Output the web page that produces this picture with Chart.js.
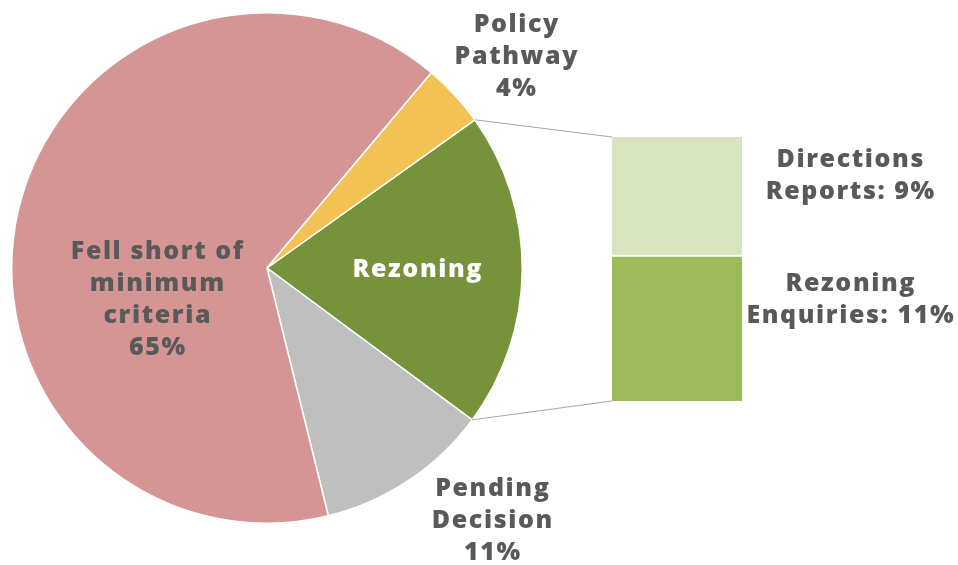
<!DOCTYPE html>
<html lang="en">
<head>
    <meta charset="UTF-8">
    <title>Outcome of submissions</title>
    <script src="https://cdn.jsdelivr.net/npm/chart.js"></script>
    <style>
        body {
            margin: 0;
            background: #fff;
        }
        .wrap {
            position: relative;
            width: 958px;
            height: 565px;
        }
        .wrap canvas {
            position: absolute;
            left: 0;
            top: 0;
        }
    </style>
</head>
<body>
    <div class="wrap">
        <canvas id="pieChart" width="958" height="565"></canvas>
        <canvas id="barChart" width="958" height="565"></canvas>
    </div>

    <script>
        // Pie slices, clockwise from the top edge of the Rezoning slice
        const pieLabels = ['Rezoning', 'Pending Decision', 'Fell short of minimum criteria', 'Policy Pathway'];
        const pieValues = [20, 11, 65, 4];
        const pieColors = ['#76933C', '#BFBFBF', '#D69595', '#F2C354'];

        // Break-down of the Rezoning slice (bottom to top in the bar)
        const barLabels = ['Rezoning Enquiries', 'Directions Reports'];
        const barValues = [11, 9];
        const barColors = ['#9BBB59', '#D7E4BD'];

        const textColor = '#595959';
        const fontFamily = '"Open Sans", sans-serif';

        // Text for each pie slice: lines, colour, offset from the pie centre
        const pieText = [
            { lines: ['Rezoning'], color: '#fff', dx: 150, dy: 2 },
            { lines: ['Pending', 'Decision', '11%'], color: textColor, dx: 225, dy: 253 },
            { lines: ['Fell short of', 'minimum', 'criteria', '65%'], color: textColor, dx: -110, dy: 32 },
            { lines: ['Policy', 'Pathway', '4%'], color: textColor, dx: 249, dy: -211 }
        ];

        function drawLines(ctx, lines, x, y, color) {
            ctx.save();
            ctx.fillStyle = color;
            ctx.font = '800 25px ' + fontFamily;
            ctx.letterSpacing = '1.6px';
            ctx.textAlign = 'center';
            ctx.textBaseline = 'middle';
            const lh = 32;
            const top = y - (lines.length - 1) * lh / 2;
            lines.forEach((t, i) => ctx.fillText(t, x + 0.8, top + i * lh));
            ctx.restore();
        }

        const pieLabelPlugin = {
            id: 'pieLabels',
            afterDatasetsDraw(chart) {
                const arcs = chart.getDatasetMeta(0).data;
                const ctx = chart.ctx;
                arcs.forEach((arc, i) => {
                    const t = pieText[i];
                    drawLines(ctx, t.lines, arc.x + t.dx, arc.y + t.dy, t.color);
                });
            }
        };

        const pieChart = new Chart(document.getElementById('pieChart'), {
            type: 'pie',
            data: {
                labels: pieLabels,
                datasets: [{
                    data: pieValues,
                    backgroundColor: pieColors,
                    borderColor: '#fff',
                    borderWidth: 1.5
                }]
            },
            options: {
                responsive: false,
                animation: false,
                rotation: 54.5,
                layout: {
                    padding: { left: 11, top: 12, right: 435, bottom: 41 }
                },
                plugins: {
                    legend: { display: false },
                    tooltip: { enabled: false }
                },
                events: []
            },
            plugins: [pieLabelPlugin]
        });

        // Bar labels: lines and vertical shift from the segment centre
        const barText = [
            { lines: ['Rezoning', 'Enquiries: 11%'], dy: -29 },
            { lines: ['Directions', 'Reports: 9%'], dy: -21 }
        ];

        const barExtrasPlugin = {
            id: 'barExtras',
            afterDatasetsDraw(chart) {
                const ctx = chart.ctx;
                const low = chart.getDatasetMeta(0).data[0];
                const high = chart.getDatasetMeta(1).data[0];
                const left = low.x - low.width / 2;
                const right = low.x + low.width / 2;

                // connector lines from the Rezoning slice to the bar
                const arc = pieChart.getDatasetMeta(0).data[0];
                const r = arc.outerRadius;
                ctx.save();
                ctx.strokeStyle = '#A6A6A6';
                ctx.lineWidth = 1;
                ctx.beginPath();
                ctx.moveTo(arc.x + r * Math.cos(arc.startAngle), arc.y + r * Math.sin(arc.startAngle));
                ctx.lineTo(left, high.y);
                ctx.moveTo(arc.x + r * Math.cos(arc.endAngle), arc.y + r * Math.sin(arc.endAngle));
                ctx.lineTo(left, low.base);
                ctx.stroke();

                // white split between the two segments
                ctx.strokeStyle = '#fff';
                ctx.lineWidth = 2;
                ctx.beginPath();
                ctx.moveTo(left, low.y);
                ctx.lineTo(right, low.y);
                ctx.stroke();
                ctx.restore();

                [low, high].forEach((bar, i) => {
                    const mid = (bar.y + bar.base) / 2;
                    drawLines(ctx, barText[i].lines, right + 108, mid + barText[i].dy, textColor);
                });
            }
        };

        new Chart(document.getElementById('barChart'), {
            type: 'bar',
            data: {
                labels: ['Rezoning'],
                datasets: barLabels.map((name, i) => ({
                    label: name,
                    data: [barValues[i]],
                    backgroundColor: barColors[i],
                    borderWidth: 0,
                    barPercentage: 1,
                    categoryPercentage: 1
                }))
            },
            options: {
                responsive: false,
                animation: false,
                layout: {
                    padding: { left: 612, top: 137, right: 216, bottom: 164 }
                },
                scales: {
                    x: { stacked: true, display: false },
                    y: { stacked: true, display: false, min: 0, max: 20 }
                },
                plugins: {
                    legend: { display: false },
                    tooltip: { enabled: false }
                },
                events: []
            },
            plugins: [barExtrasPlugin]
        });
    </script>
</body>
</html>
